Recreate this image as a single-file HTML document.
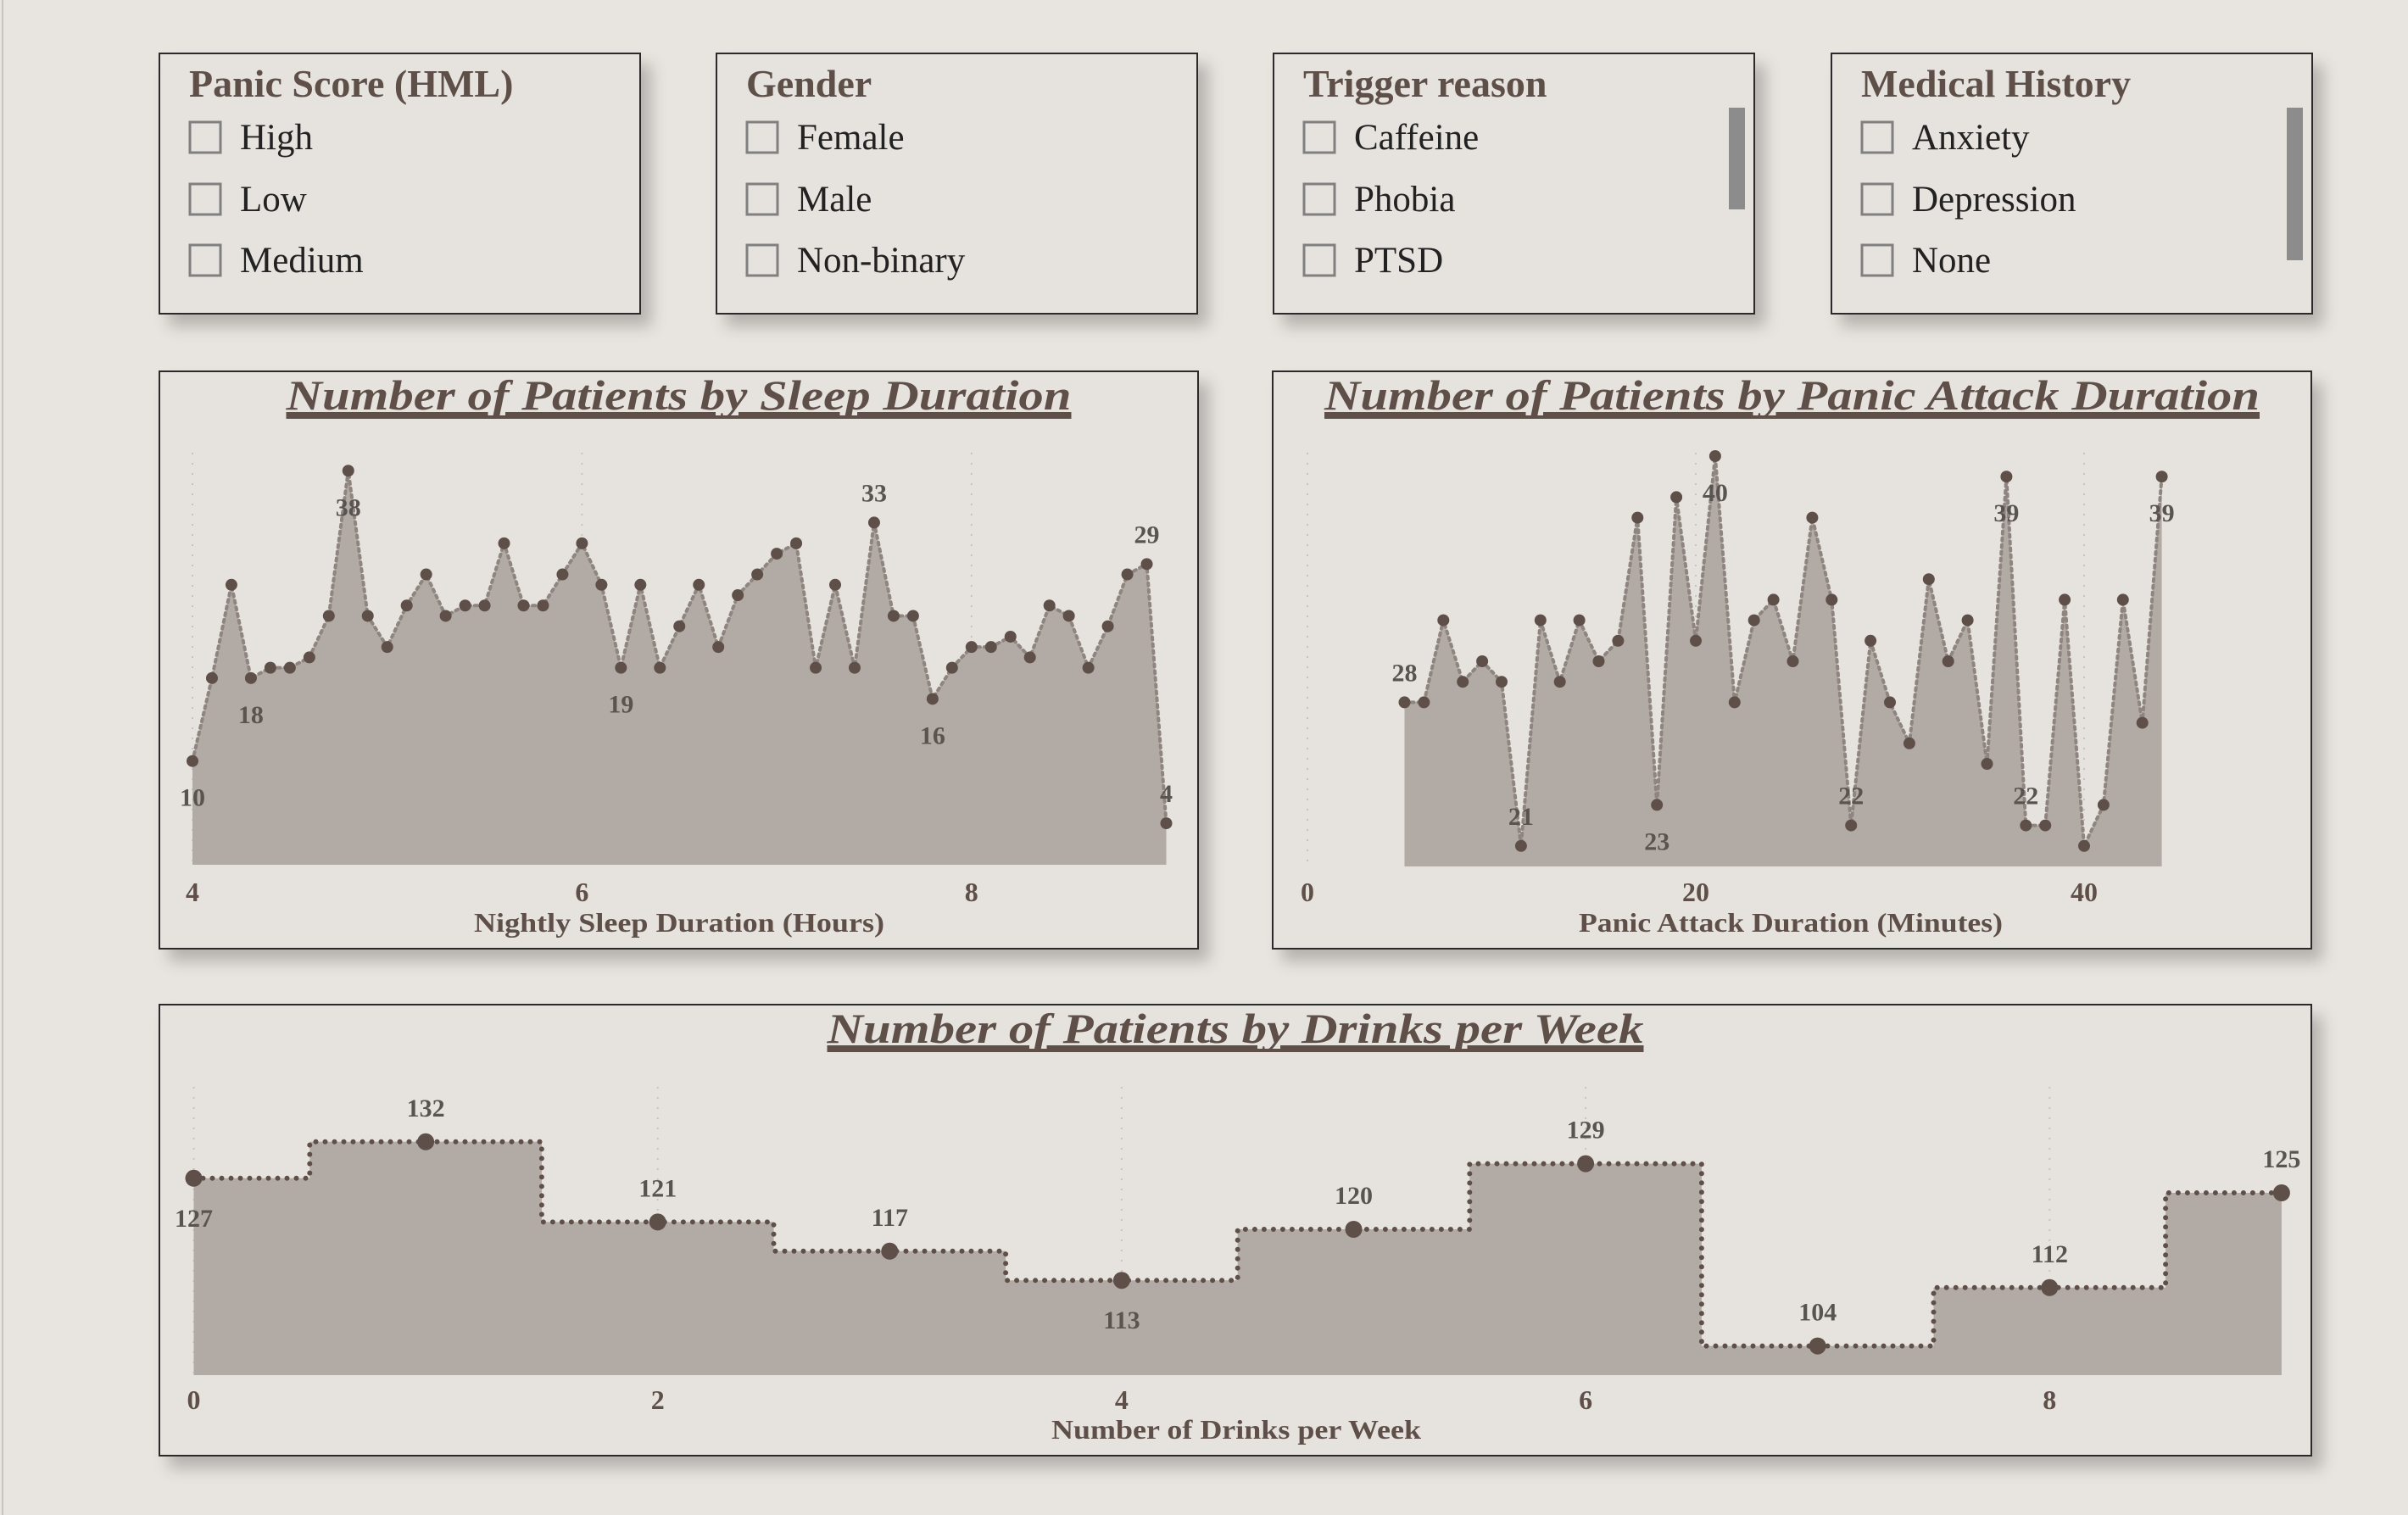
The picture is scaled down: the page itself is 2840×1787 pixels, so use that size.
<!DOCTYPE html>
<html><head><meta charset="utf-8"><style>
html,body{margin:0;padding:0;background:#e8e4df;}
svg{display:block;font-family:"Liberation Serif",serif;}
</style></head><body>
<svg id="s" width="2840" height="1787" viewBox="0 0 2840 1787" xmlns="http://www.w3.org/2000/svg">
<defs><filter id="sh" x="-10%" y="-10%" width="130%" height="140%"><feDropShadow dx="12" dy="14" stdDeviation="9" flood-color="#000" flood-opacity="0.22"/></filter></defs>
<rect x="0" y="0" width="2840" height="1787" fill="#e8e4df"/>
<line x1="3" y1="0" x2="3" y2="1787" stroke="#c9c4bf" stroke-width="2"/>
<g id="filters"></g>
<g id="charts"></g>
</svg>
<script>
const NS="http://www.w3.org/2000/svg";
const sleepX=[4.0,4.1,4.2,4.3,4.4,4.5,4.6,4.7,4.8,4.9,5.0,5.1,5.2,5.3,5.4,5.5,5.6,5.7,5.8,5.9,6.0,6.1,6.2,6.3,6.4,6.5,6.6,6.7,6.8,6.9,7.0,7.1,7.2,7.3,7.4,7.5,7.6,7.7,7.8,7.9,8.0,8.1,8.2,8.3,8.4,8.5,8.6,8.7,8.8,8.9,9.0];
const sleepCounts=[10,18,27,18,19,19,20,24,38,24,21,25,28,24,25,25,31,25,25,28,31,27,19,27,19,23,27,21,26,28,30,31,19,27,19,33,24,24,16,19,21,21,22,20,25,24,19,23,28,29,4];
const sleepLabelIdx=[0,3,8,22,35,38,49,50];
const sleepLabelAbove=[false,false,false,false,true,false,true,true];
const sleepTicks=[4,6,8];
const panicX=[5,6,7,8,9,10,11,12,13,14,15,16,17,18,19,20,21,22,23,24,25,26,27,28,29,30,31,32,33,34,35,36,37,38,39,40,41,42,43,44];
const panicCounts=[28,28,32,29,30,29,21,32,29,32,30,31,37,23,38,31,40,28,32,33,30,37,33,22,31,28,26,34,30,32,25,39,22,22,33,21,23,33,27,39];
const panicLabelIdx=[0,6,13,16,23,31,32,39];
const panicLabelAbove=[true,true,false,false,true,false,true,false];
const panicTicks=[0,20,40];
const drinkX=[0,1,2,3,4,5,6,7,8,9];
const drinkCounts=[127,132,121,117,113,120,129,104,112,125];
const drinkLabelAbove=[false,true,true,true,false,true,true,true,true,true];
const drinkTicks=[0,2,4,6,8];

function el(tag,attrs,parent){const e=document.createElementNS(NS,tag);for(const k in attrs)e.setAttribute(k,attrs[k]);parent.appendChild(e);return e;}
const F=document.getElementById('filters'), C=document.getElementById('charts');

const filterTitles=["Panic Score (HML)","Gender","Trigger reason","Medical History"];
const filterItems=[["High","Low","Medium"],["Female","Male","Non-binary"],["Caffeine","Phobia","PTSD"],["Anxiety","Depression","None"]];
const boxX=[188,845,1502,2160];
const scroll=[null,null,[127,247],[127,307]];
for(let b=0;b<4;b++){
  const g=el('g',{},F);
  
  
  el('rect',{x:boxX[b],y:63,width:567,height:307,fill:'#e6e3de',stroke:'#2b2b2b','stroke-width':2,filter:'url(#sh)'},g);
  const t=el('text',{x:boxX[b]+35,y:114,'font-size':46,'font-weight':'bold',fill:'#5f4f49'},g);
  t.textContent=filterTitles[b];
  
  
  const ys=[162,235,307];
  for(let i=0;i<3;i++){
    const it=el('g',{},g);
    
    
    el('rect',{x:boxX[b]+36,y:ys[i]-18,width:36,height:36,fill:'none',stroke:'#808080','stroke-width':3},it);
    const tx=el('text',{x:boxX[b]+95,y:ys[i]+14,'font-size':43,fill:'#222'},it);
    tx.textContent=filterItems[b][i];
  }
  if(scroll[b]){
    const sb=el('rect',{x:boxX[b]+537,y:scroll[b][0],width:19,height:scroll[b][1]-scroll[b][0],fill:'#8c8c8c'},g);
    
    
  }
}

function panel(x,y,w,h,name,title,titleW){
  const g=el('g',{},C);
  
  
  el('rect',{x:x,y:y,width:w,height:h,fill:'#e6e3de',stroke:'#2b2b2b','stroke-width':2,filter:'url(#sh)'},g);
  const t=el('text',{x:x+w/2,y:y+45,'font-size':50,'font-weight':'bold','font-style':'italic',fill:'#5f4f49','text-anchor':'middle','text-decoration':'underline',textLength:titleW,lengthAdjust:'spacingAndGlyphs'},g);
  t.textContent=title;
  
  
  el('rect',{x:x+w/2-titleW/2,y:y+52,width:titleW,height:4,fill:'#5f4f49'},g);
  return g;
}
function ticksAndGrid(g,ticks,xs,yTop,yBase,labY,axisTitle,axCx,axY,axW){
  ticks.forEach(v=>{
    const gl=el('line',{x1:xs(v),x2:xs(v),y1:yTop,y2:yBase,stroke:'#c8c3be','stroke-width':2,'stroke-dasharray':'2 10'},g);
    
    
    const t=el('text',{x:xs(v),y:labY,'font-size':32,'font-weight':'bold',fill:'#5f4f49','text-anchor':'middle'},g);
    t.textContent=v;
    
    
  });
  const at=el('text',{x:axCx,y:axY,'font-size':32,'font-weight':'bold',fill:'#5f4f49','text-anchor':'middle',textLength:axW,lengthAdjust:'spacingAndGlyphs'},g);
  at.textContent=axisTitle;
  
  
}
function areaLine(g,X,Y,xs,ys,base,lblIdx,lblAbove){
  let d='M'+xs(X[0])+','+base;
  X.forEach((v,i)=>{d+=' L'+xs(v)+','+ys(Y[i]);});
  d+=' L'+xs(X[X.length-1])+','+base+' Z';
  const a=el('path',{d:d,fill:'#b2aaa4'},g);
  
  
  const pts=X.map((v,i)=>xs(v)+','+ys(Y[i])).join(' ');
  const l=el('polyline',{points:pts,fill:'none',stroke:'#8f8580','stroke-width':4,'stroke-dasharray':'3 5','stroke-linecap':'round'},g);
  
  
  X.forEach((v,i)=>{
    const c=el('circle',{cx:xs(v),cy:ys(Y[i]),r:7,fill:'#5f4f49'},g);
    
    
  });
  lblIdx.forEach((idx,k)=>{
    const t=el('text',{x:xs(X[idx]),y:ys(Y[idx])+(lblAbove[k]?-25:53),'font-size':30,'font-weight':'bold',fill:'#5a5450','text-anchor':'middle'},g);
    t.textContent=Y[idx];
    
    
  });
}

{
  const g=panel(188,438,1225,681,'sleep-duration-chart','Number of Patients by Sleep Duration',926);
  const xs=v=>227+(v-4)*229.7, ys=v=>1020-v*12.23;
  ticksAndGrid(g,sleepTicks,xs,534,1020,1063,'Nightly Sleep Duration (Hours)',801,1099,484);
  areaLine(g,sleepX,sleepCounts,xs,ys,1020,sleepLabelIdx,sleepLabelAbove);
}
{
  const g=panel(1501,438,1225,681,'panic-duration-chart','Number of Patients by Panic Attack Duration',1103);
  const xs=v=>1542+v*22.9, ys=v=>1022-(v-20)*24.2;
  ticksAndGrid(g,panicTicks,xs,534,1022,1063,'Panic Attack Duration (Minutes)',2112,1099,500);
  areaLine(g,panicX,panicCounts,xs,ys,1022,panicLabelIdx,panicLabelAbove);
}
{
  const g=panel(188,1185,2538,532,'drinks-per-week-chart','Number of Patients by Drinks per Week',963);
  const xs=v=>228.5+v*273.6, ys=v=>1622-(v-100)*8.6;
  const base=1622;
  ticksAndGrid(g,drinkTicks,xs,1282,base,1662,'Number of Drinks per Week',1458,1697,436);
  const n=drinkX.length, lo=drinkX[0], hi=drinkX[n-1];
  let d='', area='M'+xs(lo)+','+base;
  drinkX.forEach((v,i)=>{
    const a=Math.max(lo,v-0.5), b=Math.min(hi,v+0.5);
    d+=(i===0?'M':' L')+xs(a)+','+ys(drinkCounts[i])+' L'+xs(b)+','+ys(drinkCounts[i]);
    area+=' L'+xs(a)+','+ys(drinkCounts[i])+' L'+xs(b)+','+ys(drinkCounts[i]);
  });
  area+=' L'+xs(hi)+','+base+' Z';
  const ar=el('path',{d:area,fill:'#b2aaa4'},g);
  
  
  const ln=el('path',{d:d,fill:'none',stroke:'#5f4f49','stroke-width':6,'stroke-dasharray':'0 11','stroke-linecap':'round'},g);
  
  
  drinkX.forEach((v,i)=>{
    const c=el('circle',{cx:xs(v),cy:ys(drinkCounts[i]),r:10,fill:'#5f4f49'},g);
    
    
    const t=el('text',{x:xs(v),y:ys(drinkCounts[i])+(drinkLabelAbove[i]?-30:57),'font-size':30,'font-weight':'bold',fill:'#5a5450','text-anchor':'middle'},g);
    t.textContent=drinkCounts[i];
    
    
  });
}
</script>
</body></html>
